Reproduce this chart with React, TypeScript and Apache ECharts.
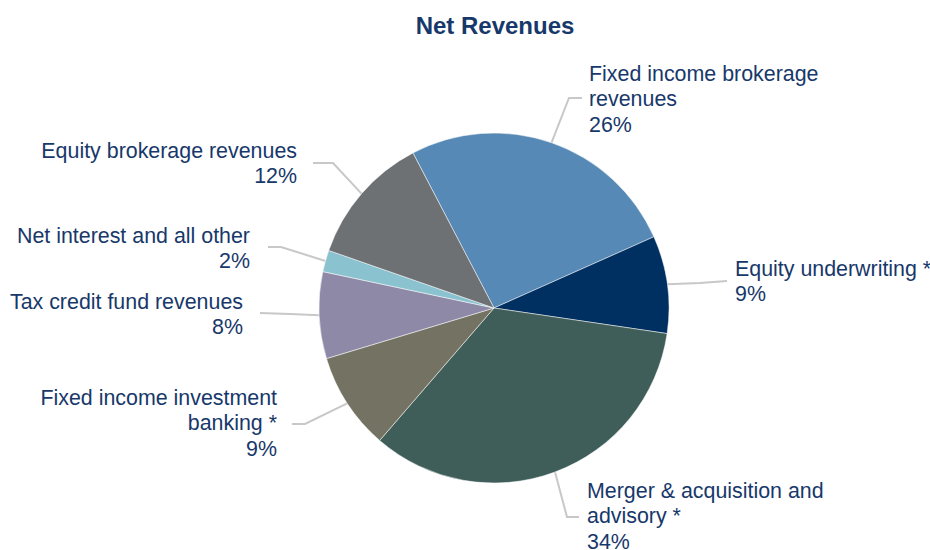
import React, { useEffect, useRef } from "react";
import * as echarts from "echarts";

// ---- data ----
const categories: string[] = [
  "Fixed income brokerage\nrevenues",
  "Equity underwriting *",
  "Merger & acquisition and\nadvisory *",
  "Fixed income investment\nbanking *",
  "Tax credit fund revenues",
  "Net interest and all other",
  "Equity brokerage revenues",
];
const shares: number[] = [26, 9, 34, 9, 8, 2, 12];

// ---- styles / layout (not data) ----
const colors: string[] = ["#5689B5", "#002F62", "#3F5E5A", "#747262", "#8D89A7", "#8AC3CF", "#6D7173"];
// label anchor: [x, top, align], elbow and end of guide line
const labelAnchors: [number, number, "left" | "right"][] = [
  [589, 61, "left"],
  [735, 256, "left"],
  [587, 478, "left"],
  [277, 385, "right"],
  [243, 289, "right"],
  [250, 223, "right"],
  [297, 138, "right"],
];
const guideMid: [number, number][] = [
  [569, 98],
  [700, 283],
  [567, 517],
  [305, 424],
  [290, 314],
  [281, 247],
  [333, 163],
];
const guideEnd: [number, number][] = [
  [582, 98],
  [727, 281],
  [579, 517],
  [292, 424],
  [260, 313],
  [268, 247],
  [313, 163],
];

const TEXT = "#17386A";
const FONT = "'Liberation Sans', Arial, sans-serif";

export default function App() {
  const ref = useRef<HTMLDivElement>(null);
  useEffect(() => {
    document.body.style.margin = "0";
    if (!ref.current) return;
    const chart = echarts.init(ref.current, undefined, { renderer: "svg" });
    chart.setOption({
      animation: false,
      backgroundColor: "#ffffff",
      title: {
        text: "Net Revenues",
        left: 490,
        top: 8,
        textAlign: "center",
        textStyle: { color: TEXT, fontSize: 24, fontWeight: "bold", fontFamily: FONT },
      },
      series: [
        {
          type: "pie",
          center: [494, 308],
          radius: 175,
          startAngle: 117.6,
          clockwise: true,
          avoidLabelOverlap: false,
          emphasis: { disabled: true },
          itemStyle: { borderColor: "#ffffff", borderWidth: 0.5 },
          data: categories.map((name, i) => ({
            name,
            value: shares[i],
            itemStyle: { color: colors[i] },
          })),
          label: {
            show: true,
            position: "outside",
            formatter: (p: any) => `${p.name}\n${p.value}%`,
            color: TEXT,
            fontSize: 21.4,
            lineHeight: 25.5,
            fontFamily: FONT,
          },
          labelLine: {
            show: true,
            length: 15,
            length2: 15,
            lineStyle: { color: "#C8C8C8", width: 2 },
          },
          labelLayout: (params: any) => {
            const i = params.dataIndex;
            const a = labelAnchors[i];
            const start = params.labelLinePoints && params.labelLinePoints[0]
              ? params.labelLinePoints[0]
              : guideMid[i];
            return {
              x: a[0],
              y: a[1],
              align: a[2],
              verticalAlign: "top",
              labelLinePoints: [start, guideMid[i], guideEnd[i]],
            };
          },
        },
      ],
    });
    return () => chart.dispose();
  }, []);
  return <div ref={ref} style={{ width: 930, height: 550 }} />;
}
